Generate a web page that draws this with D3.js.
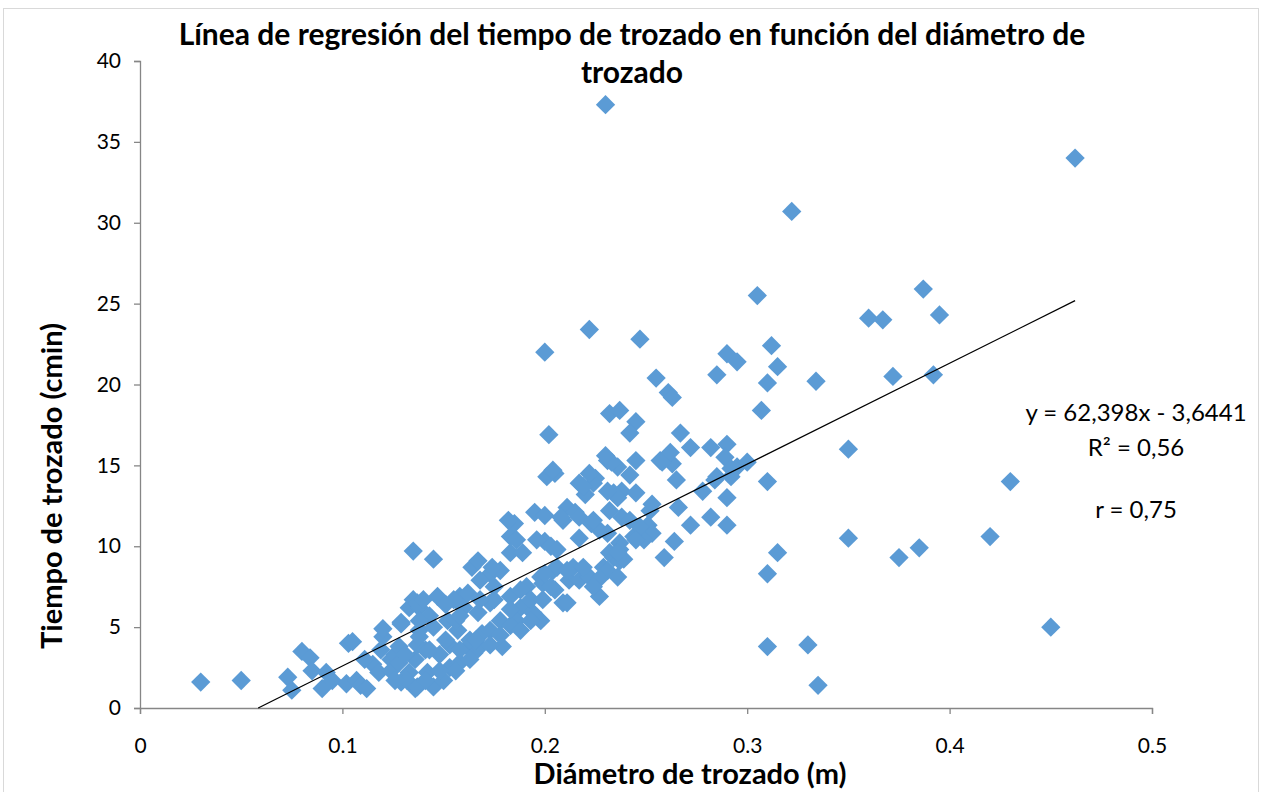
<!DOCTYPE html>
<html>
<head>
<meta charset="utf-8">
<script src="https://cdn.jsdelivr.net/npm/d3@7"></script>
<style>
  body { margin: 0; background: #fff; }
  svg text { font-family: Lato, "Open Sans", sans-serif; fill: #000; }
</style>
</head>
<body>
<svg id="chart" width="1267" height="792"></svg>
<script>
// diámetro de trozado (m) y tiempo de trozado (cmin)
var diametro = [
  0.030, 0.050, 0.073, 0.075, 0.080, 0.084, 0.085, 0.090, 0.092, 0.095,
  0.103, 0.105, 0.102, 0.107, 0.109, 0.112, 0.120, 0.115, 0.118, 0.124,
  0.124, 0.126, 0.129, 0.129, 0.133, 0.135, 0.133, 0.136, 0.137, 0.138,
  0.136, 0.120, 0.145, 0.164, 0.167, 0.183, 0.185, 0.200, 0.209, 0.147,
  0.135, 0.138, 0.158, 0.173, 0.178, 0.175, 0.183, 0.188, 0.198, 0.209,
  0.212, 0.204, 0.214, 0.179, 0.165, 0.157, 0.152, 0.145, 0.138, 0.132,
  0.142, 0.153, 0.162, 0.169, 0.178, 0.186, 0.194, 0.191, 0.199, 0.167,
  0.160, 0.173, 0.145, 0.137, 0.150, 0.158, 0.168, 0.128, 0.128, 0.137,
  0.140, 0.129, 0.153, 0.148, 0.163, 0.173, 0.183, 0.156, 0.141, 0.188,
  0.193, 0.205, 0.202, 0.232, 0.237, 0.245, 0.242, 0.261, 0.255, 0.285,
  0.267, 0.272, 0.282, 0.290, 0.289, 0.295, 0.231, 0.236, 0.245, 0.242,
  0.257, 0.263, 0.265, 0.201, 0.205, 0.217, 0.225, 0.220, 0.234, 0.232,
  0.238, 0.245, 0.278, 0.284, 0.290, 0.266, 0.252, 0.282, 0.290, 0.272,
  0.264, 0.259, 0.182, 0.195, 0.200, 0.211, 0.208, 0.215, 0.223, 0.217,
  0.227, 0.238, 0.242, 0.251, 0.253, 0.249, 0.244, 0.237, 0.232, 0.229,
  0.227, 0.211, 0.217, 0.222, 0.234, 0.237, 0.206, 0.198, 0.183, 0.186,
  0.196, 0.203, 0.189, 0.174, 0.168, 0.162, 0.155, 0.204, 0.224, 0.219,
  0.222, 0.253, 0.236, 0.231, 0.217, 0.224, 0.247, 0.231, 0.237, 0.239,
  0.231, 0.227, 0.224, 0.203, 0.199, 0.211, 0.219, 0.236, 0.245, 0.236,
  0.200, 0.206, 0.233, 0.258, 0.262, 0.285, 0.222, 0.247, 0.263, 0.290,
  0.295, 0.307, 0.300, 0.230, 0.230, 0.322, 0.305, 0.200, 0.312, 0.315,
  0.310, 0.334, 0.360, 0.367, 0.387, 0.395, 0.372, 0.392, 0.462, 0.350,
  0.310, 0.430, 0.350, 0.420, 0.315, 0.310, 0.375, 0.385, 0.450, 0.310,
  0.330, 0.335, 0.292, 0.292,
  0.143, 0.151, 0.158, 0.166, 0.173, 0.178, 0.188, 0.193, 0.156, 0.163,
  0.148, 0.141, 0.183, 0.175, 0.168, 0.158, 0.151, 0.143, 0.138, 0.131,
  0.126, 0.119, 0.111
];
var tiempo = [
  1.6, 1.7, 1.9, 1.1, 3.5, 3.1, 2.3, 1.2, 2.2, 1.7,
  4.0, 4.1, 1.5, 1.7, 1.4, 1.2, 4.4, 2.7, 2.2, 3.0,
  2.3, 3.3, 1.6, 5.2, 6.2, 9.7, 2.2, 3.0, 3.9, 4.8,
  1.2, 4.9, 9.2, 8.7, 9.1, 10.6, 11.4, 10.3, 11.6, 6.9,
  6.7, 6.2, 6.9, 8.3, 8.5, 7.5, 6.9, 6.2, 5.4, 6.5,
  7.9, 8.5, 8.7, 3.8, 3.4, 4.8, 5.4, 5.0, 4.4, 1.7,
  2.2, 2.5, 3.8, 4.6, 5.4, 5.4, 5.9, 7.5, 7.7, 5.9,
  6.2, 6.5, 1.3, 1.3, 1.7, 2.8, 3.8, 3.8, 2.8, 6.5,
  6.7, 5.3, 3.9, 3.3, 4.2, 4.8, 5.1, 5.4, 3.6, 7.3,
  6.7, 7.3, 16.9, 18.2, 18.4, 17.7, 17.0, 19.5, 20.4, 20.6,
  17.0, 16.1, 16.1, 16.3, 15.5, 14.9, 15.3, 14.9, 15.3, 14.4,
  15.3, 15.1, 14.1, 14.3, 14.5, 13.9, 14.2, 13.2, 13.3, 12.2,
  13.4, 13.3, 13.4, 14.1, 13.0, 12.4, 12.2, 11.8, 11.3, 11.3,
  10.3, 9.3, 11.6, 12.1, 11.9, 12.4, 11.8, 12.1, 11.4, 10.5,
  11.0, 11.8, 11.6, 11.3, 10.8, 10.4, 10.6, 10.2, 9.6, 8.7,
  6.9, 6.5, 7.9, 8.1, 9.3, 9.1, 8.7, 8.1, 9.6, 10.4,
  10.4, 10.0, 9.6, 8.7, 7.9, 7.1, 6.7, 14.7, 13.9, 13.7,
  14.5, 12.6, 13.0, 13.4, 11.8, 11.6, 11.2, 10.8, 9.8, 9.2,
  8.5, 8.0, 7.5, 7.5, 6.7, 8.5, 8.7, 9.6, 10.4, 8.1,
  8.3, 9.8, 15.2, 15.2, 15.8, 14.3, 23.4, 22.8, 19.2, 21.9,
  21.4, 18.4, 15.2, 15.6, 37.3, 30.7, 25.5, 22.0, 22.4, 21.1,
  20.1, 20.2, 24.1, 24.0, 25.9, 24.3, 20.5, 20.6, 34.0, 16.0,
  14.0, 14.0, 10.5, 10.6, 9.6, 8.3, 9.3, 9.9, 5.0, 3.8,
  3.9, 1.4, 14.8, 14.3,
  3.6, 4.2, 3.6, 4.2, 3.9, 4.5, 4.8, 5.4, 2.3, 3.0,
  2.3, 1.7, 6.1, 6.7, 6.7, 5.7, 6.4, 5.7, 5.4, 3.3,
  1.7, 3.6, 3.0
];
var xTicks = [0, 0.1, 0.2, 0.3, 0.4, 0.5];
var yTicks = [0, 5, 10, 15, 20, 25, 30, 35, 40];
var pendiente = 62.398, intercepto = -3.6441;
var tituloLineas = ["Línea de regresión del tiempo de trozado en función del diámetro de", "trozado"];
var ecuacion = ["y = 62,398x - 3,6441", "R² = 0,56", "r = 0,75"];

var svg = d3.select("#chart");
var axisColor = "#868686";

svg.append("rect")
  .attr("x", 3.5).attr("y", 8.5)
  .attr("width", 1255).attr("height", 800)
  .attr("fill", "none").attr("stroke", "#d9d9d9");

var x = d3.scaleLinear().domain([0, 0.5]).range([140, 1152]);
var y = d3.scaleLinear().domain([0, 40]).range([708, 61]);

// axes
var xAxis = svg.append("g").attr("transform", "translate(0,708)")
  .call(d3.axisBottom(x).tickValues(xTicks).tickSize(6).tickPadding(24)
    .tickFormat(function (d) { return d === 0 ? "0" : String(d); }));
var yAxis = svg.append("g").attr("transform", "translate(140,0)")
  .call(d3.axisLeft(y).tickValues(yTicks).tickSize(6).tickPadding(13));

[xAxis, yAxis].forEach(function (g) {
  g.selectAll("path, line").attr("stroke", axisColor).attr("stroke-width", 1.3);
  g.selectAll("text").attr("font-size", 21).attr("font-family", "Lato, sans-serif").attr("fill", "#000");
});

// points
var puntos = d3.range(diametro.length).map(function (i) {
  return { d: diametro[i], t: tiempo[i] };
});
var diamond = d3.symbol().type(d3.symbolSquare).size(186);
svg.append("g").selectAll("path")
  .data(puntos).enter()
  .append("path")
  .attr("d", diamond)
  .attr("fill", "#5b9bd5")
  .attr("transform", function (p) {
    return "translate(" + x(p.d) + "," + y(p.t) + ") rotate(45)";
  });

// regression line
var x0 = Math.max(d3.min(diametro), -intercepto / pendiente);
var x1 = d3.max(diametro);
svg.append("line")
  .attr("x1", x(x0)).attr("y1", y(pendiente * x0 + intercepto))
  .attr("x2", x(x1)).attr("y2", y(pendiente * x1 + intercepto))
  .attr("stroke", "#000").attr("stroke-width", 1.2);

// title
svg.append("text")
  .attr("x", 632).attr("y", 45)
  .attr("text-anchor", "middle")
  .attr("font-size", 30).attr("font-weight", "bold")
  .selectAll("tspan").data(tituloLineas).enter()
  .append("tspan")
  .attr("x", 632)
  .attr("dy", function (d, i) { return i === 0 ? 0 : 38; })
  .text(function (d) { return d; });

// axis titles
svg.append("text")
  .attr("x", 690).attr("y", 784)
  .attr("text-anchor", "middle")
  .attr("font-size", 29).attr("font-weight", "bold")
  .text("Diámetro de trozado (m)");

svg.append("text")
  .attr("transform", "translate(62,486) rotate(-90)")
  .attr("text-anchor", "middle")
  .attr("font-size", 29).attr("font-weight", "bold")
  .text("Tiempo de trozado (cmin)");

// equation label
var eqY = [421, 456, 518];
svg.append("g").selectAll("text")
  .data(ecuacion).enter()
  .append("text")
  .attr("x", 1136).attr("y", function (d, i) { return eqY[i]; })
  .attr("text-anchor", "middle")
  .attr("font-size", 24)
  .text(function (d) { return d; });
</script>
</body>
</html>
